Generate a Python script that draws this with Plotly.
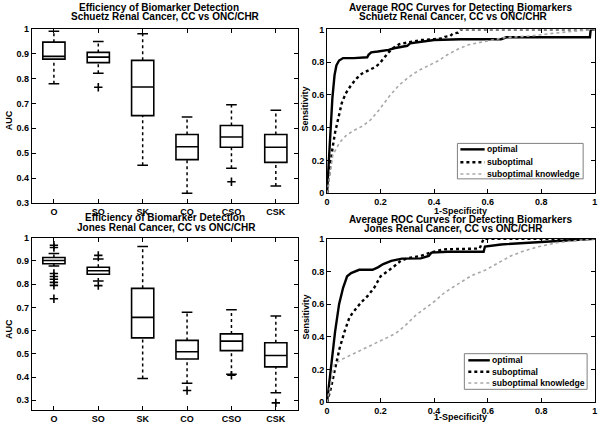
import plotly.graph_objects as go

W, H = 601, 429
FONT = "Liberation Sans, Arial, sans-serif"

# ---------------- data ----------------
categories = ["O", "SO", "SK", "CO", "CSO", "CSK"]

# Schuetz (top) box statistics
sch_low = [0.779, 0.821, 0.452, 0.339, 0.439, 0.368]
sch_q1 = [0.878, 0.864, 0.651, 0.474, 0.524, 0.463]
sch_med = [0.889, 0.886, 0.766, 0.526, 0.565, 0.524]
sch_q3 = [0.946, 0.905, 0.873, 0.575, 0.611, 0.575]
sch_high = [0.990, 0.949, 0.980, 0.645, 0.695, 0.673]
sch_out_x = ["SO", "CSO"]
sch_out_y = [0.765, 0.385]

# Jones (bottom) box statistics
jon_low = [0.878, 0.814, 0.394, 0.373, 0.412, 0.332]
jon_q1 = [0.888, 0.843, 0.569, 0.478, 0.514, 0.444]
jon_med = [0.902, 0.858, 0.657, 0.509, 0.555, 0.493]
jon_q3 = [0.915, 0.873, 0.782, 0.558, 0.586, 0.548]
jon_high = [0.932, 0.909, 0.962, 0.679, 0.690, 0.663]
jon_out_x = ["O", "O", "O", "O", "O", "O", "O", "O", "SO", "SO", "CO", "CSO", "CSK"]
jon_out_y = [0.968, 0.958, 0.846, 0.833, 0.821, 0.808, 0.795, 0.737, 0.924, 0.794, 0.342, 0.408, 0.289]

# ROC curves, Schuetz
sch_opt_x = [0, 0.005, 0.012, 0.02, 0.028, 0.035, 0.045, 0.06, 0.10, 0.15, 0.155, 0.165, 0.19,
             0.21, 0.23, 0.25, 0.28, 0.30, 0.31, 0.35, 0.40, 0.5, 0.65, 0.67, 0.8, 0.982, 0.985, 1.0]
sch_opt_y = [0, 0.15, 0.38, 0.58, 0.72, 0.78, 0.81, 0.825, 0.825, 0.83, 0.845, 0.86, 0.865,
             0.87, 0.875, 0.885, 0.895, 0.90, 0.915, 0.925, 0.935, 0.94, 0.94, 0.952, 0.952, 0.952, 1.0, 1.0]
sch_sub_x = [0, 0.01, 0.02, 0.03, 0.04, 0.055, 0.07, 0.09, 0.11, 0.13, 0.155, 0.18, 0.195, 0.21,
             0.23, 0.25, 0.27, 0.3, 0.35, 0.4, 0.43, 0.44, 0.46, 0.47, 0.49, 0.5, 1.0]
sch_sub_y = [0, 0.15, 0.27, 0.37, 0.45, 0.55, 0.61, 0.66, 0.70, 0.73, 0.75, 0.77, 0.79, 0.82,
             0.86, 0.89, 0.91, 0.92, 0.935, 0.94, 0.945, 0.955, 0.96, 0.975, 0.98, 1.0, 1.0]
sch_kno_x = [0, 0.022, 0.047, 0.07, 0.096, 0.133, 0.164, 0.195, 0.232, 0.269, 0.306, 0.343, 0.38,
             0.417, 0.454, 0.49, 0.528, 0.565, 0.60, 0.663, 0.76, 0.865, 0.98, 1.0]
sch_kno_y = [0, 0.235, 0.31, 0.35, 0.38, 0.41, 0.45, 0.51, 0.59, 0.66, 0.71, 0.75, 0.78,
             0.81, 0.85, 0.88, 0.906, 0.92, 0.93, 0.95, 0.96, 0.98, 1.0, 1.0]

# ROC curves, Jones
jon_opt_x = [0, 0.01, 0.02, 0.03, 0.045, 0.06, 0.075, 0.09, 0.12, 0.17, 0.19, 0.21, 0.24, 0.28,
             0.35, 0.38, 0.39, 0.45, 0.585, 0.59, 0.65, 0.75, 0.85, 0.95, 1.0]
jon_opt_y = [0, 0.15, 0.3, 0.43, 0.6, 0.7, 0.77, 0.79, 0.81, 0.81, 0.825, 0.845, 0.865, 0.878,
             0.88, 0.895, 0.915, 0.92, 0.92, 0.952, 0.965, 0.975, 0.985, 0.995, 1.0]
jon_sub_x = [0, 0.015, 0.028, 0.047, 0.065, 0.084, 0.102, 0.127, 0.152, 0.176, 0.2, 0.226, 0.25,
             0.275, 0.3, 0.35, 0.386, 0.435, 0.57, 0.585, 1.0]
jon_sub_y = [0, 0.09, 0.19, 0.33, 0.43, 0.52, 0.56, 0.61, 0.65, 0.70, 0.77, 0.80, 0.83,
             0.865, 0.88, 0.895, 0.915, 0.935, 0.94, 1.0, 1.0]
jon_kno_x = [0, 0.028, 0.059, 0.096, 0.133, 0.17, 0.207, 0.256, 0.293, 0.33, 0.367, 0.404, 0.44,
             0.49, 0.54, 0.59, 0.64, 0.688, 0.737, 0.787, 0.86, 0.935, 1.0]
jon_kno_y = [0, 0.235, 0.265, 0.295, 0.32, 0.355, 0.385, 0.42, 0.47, 0.53, 0.575, 0.62, 0.672,
             0.725, 0.775, 0.807, 0.85, 0.896, 0.926, 0.95, 0.976, 0.99, 1.0]

roc_names = ["optimal", "suboptimal", "suboptimal knowledge"]

# ---------------- figure ----------------
fig = go.Figure()

pos = list(range(1, len(categories) + 1))
cat_pos = {c: p for c, p in zip(categories, pos)}
CAP = 0.12

ROC_STYLES = [dict(color="black", width=2.4, dash="solid"),
              dict(color="black", width=2.4, dash="dot"),
              dict(color="#a8a8a8", width=1.6, dash="dot")]


def add_boxes(xa, ya, low, q1, med, q3, high, ox, oy):
    fig.add_trace(go.Box(
        x=pos, q1=q1, median=med, q3=q3, lowerfence=q1, upperfence=q3,
        width=0.5, whiskerwidth=0, fillcolor="rgba(255,255,255,0)",
        line=dict(color="black", width=1.6), xaxis=xa, yaxis=ya,
        showlegend=False, hoverinfo="skip"))
    wx, wy, cx, cy = [], [], [], []
    for p, lo, a, b, hi in zip(pos, low, q1, q3, high):
        wx += [p, p, None, p, p, None]
        wy += [lo, a, None, b, hi, None]
        cx += [p - CAP, p + CAP, None, p - CAP, p + CAP, None]
        cy += [lo, lo, None, hi, hi, None]
    fig.add_trace(go.Scatter(x=wx, y=wy, mode="lines", line=dict(color="black", width=1.5, dash="dot"),
                             xaxis=xa, yaxis=ya, showlegend=False, hoverinfo="skip"))
    fig.add_trace(go.Scatter(x=cx, y=cy, mode="lines", line=dict(color="black", width=1.5),
                             xaxis=xa, yaxis=ya, showlegend=False, hoverinfo="skip"))
    fig.add_trace(go.Scatter(x=[cat_pos[c] for c in ox], y=oy, mode="markers",
                             marker=dict(symbol="cross-thin", size=6, color="black",
                                         line=dict(color="black", width=1.6)),
                             xaxis=xa, yaxis=ya, showlegend=False, hoverinfo="skip"))


def add_roc(xa, ya, curves):
    for (cx, cy), name, st in zip(curves, roc_names, ROC_STYLES):
        fig.add_trace(go.Scatter(x=cx, y=cy, mode="lines", name=name, line=st,
                                 xaxis=xa, yaxis=ya, showlegend=False, hoverinfo="skip"))


add_boxes("x", "y", sch_low, sch_q1, sch_med, sch_q3, sch_high, sch_out_x, sch_out_y)
add_roc("x2", "y2", [(sch_opt_x, sch_opt_y), (sch_sub_x, sch_sub_y), (sch_kno_x, sch_kno_y)])
add_boxes("x3", "y3", jon_low, jon_q1, jon_med, jon_q3, jon_high, jon_out_x, jon_out_y)
add_roc("x4", "y4", [(jon_opt_x, jon_opt_y), (jon_sub_x, jon_sub_y), (jon_kno_x, jon_kno_y)])


def px_x(a, b):
    return [a / W, b / W]


def px_y(top, bottom):
    return [1 - bottom / H, 1 - top / H]


tickfont = dict(family=FONT, size=9, color="black", weight="bold")
common = dict(showline=True, linecolor="black", linewidth=1, mirror="ticks", ticks="inside",
              ticklen=4, tickcolor="black", tickwidth=1, showgrid=False, zeroline=False,
              tickfont=tickfont)

roc_ticks = [0, 0.2, 0.4, 0.6, 0.8, 1]
roc_text = ["0", "0.2", "0.4", "0.6", "0.8", "1"]
auc_ticks = [0.3, 0.4, 0.5, 0.6, 0.7, 0.8, 0.9, 1.0]
auc_text = ["0.3", "0.4", "0.5", "0.6", "0.7", "0.8", "0.9", "1"]

fig.update_layout(
    width=W, height=H, margin=dict(l=0, r=0, t=0, b=0),
    paper_bgcolor="white", plot_bgcolor="white", showlegend=False,
    font=dict(family=FONT, size=9, color="black"),
    xaxis=dict(domain=px_x(29, 298), range=[0.5, 6.5], tickvals=pos, ticktext=categories, anchor="y", **common),
    yaxis=dict(domain=px_y(24.3, 202.7), range=[0.3, 1.0], tickvals=auc_ticks, ticktext=auc_text, anchor="x", **common),
    xaxis2=dict(domain=px_x(327.3, 597.7), range=[0, 1], tickvals=roc_ticks, ticktext=roc_text, anchor="y2", **common),
    yaxis2=dict(domain=px_y(25, 192.7), range=[0, 1], tickvals=roc_ticks, ticktext=roc_text, anchor="x2", **common),
    xaxis3=dict(domain=px_x(29, 298), range=[0.5, 6.5], tickvals=pos, ticktext=categories, anchor="y3", **common),
    yaxis3=dict(domain=px_y(238.3, 414.7), range=[0.258, 1.0], tickvals=auc_ticks, ticktext=auc_text, anchor="x3", **common),
    xaxis4=dict(domain=px_x(327.3, 597.7), range=[0, 1], tickvals=roc_ticks, ticktext=roc_text, anchor="y4", **common),
    yaxis4=dict(domain=px_y(239.3, 406.7), range=[0, 1], tickvals=roc_ticks, ticktext=roc_text, anchor="x4", **common),
)

# ---- legends (drawn as boxes inside the ROC panels) ----
LEG_FONT = dict(family=FONT, size=8.6, color="black", weight="bold")


def add_legend(x0, x1, y0, y1, rows, lx0, lx1, tx):
    fig.add_shape(type="rect", xref="paper", yref="paper", x0=x0 / W, x1=x1 / W,
                  y0=1 - y1 / H, y1=1 - y0 / H, line=dict(color="#808080", width=1),
                  fillcolor="white", layer="above")
    for ry, name, st in zip(rows, roc_names, ROC_STYLES):
        fig.add_shape(type="line", xref="paper", yref="paper", x0=lx0 / W, x1=lx1 / W,
                      y0=1 - ry / H, y1=1 - ry / H, line=st, layer="above")
        fig.add_annotation(text=name, x=tx / W, y=1 - ry / H, xref="paper", yref="paper",
                           xanchor="left", yanchor="middle", showarrow=False,
                           font=LEG_FONT, borderpad=0)


add_legend(459, 586, 141.7, 178, [147.8, 161, 173], 462, 486.5, 488)
add_legend(466, 590, 357, 393.5, [363.8, 375.5, 387], 470, 491.7, 493)

annos = [
    ("Efficiency of Biomarker Detection", 158, 2.7),
    ("Schuetz Renal Cancer, CC vs ONC/CHR", 164, 12),
    ("Average ROC Curves for Detecting Biomarkers", 462.5, 2.2),
    ("Schuetz Renal Cancer, CC vs ONC/CHR", 455, 11.5),
    ("Efficiency of Biomarker Detection", 164, 217.3),
    ("Jones Renal Cancer, CC vs ONC/CHR", 165.5, 228.3),
    ("Average ROC Curves for Detecting Biomarkers", 462.5, 219.5),
    ("Jones Renal Cancer, CC vs ONC/CHR", 455, 228.5),
]
for text, x, y in annos:
    fig.add_annotation(text=text, x=x / W, y=1 - y / H, xref="paper", yref="paper",
                       xanchor="center", yanchor="middle", showarrow=False,
                       font=dict(family=FONT, size=10, color="black", weight="bold"), borderpad=0)

labels = [
    ("AUC", 6, 118, -90),
    ("AUC", 6, 331.7, -90),
    ("Sensitivity", 305, 106, -90),
    ("Sensitivity", 306, 319, -90),
    ("1-Specificity", 462.5, 210.7, 0),
    ("1-Specificity", 462.5, 422, 0),
]
for text, x, y, ang in labels:
    fig.add_annotation(text=text, x=x / W, y=1 - y / H, xref="paper", yref="paper",
                       xanchor="center", yanchor="middle", showarrow=False, textangle=ang,
                       font=dict(family=FONT, size=9, color="black", weight="bold"), borderpad=0)

# the page body has a default 8px margin; remove it so the figure fills the window
fig.write_html("out.html", config={"displayModeBar": False},
               post_script="document.body.style.margin='0px';")
